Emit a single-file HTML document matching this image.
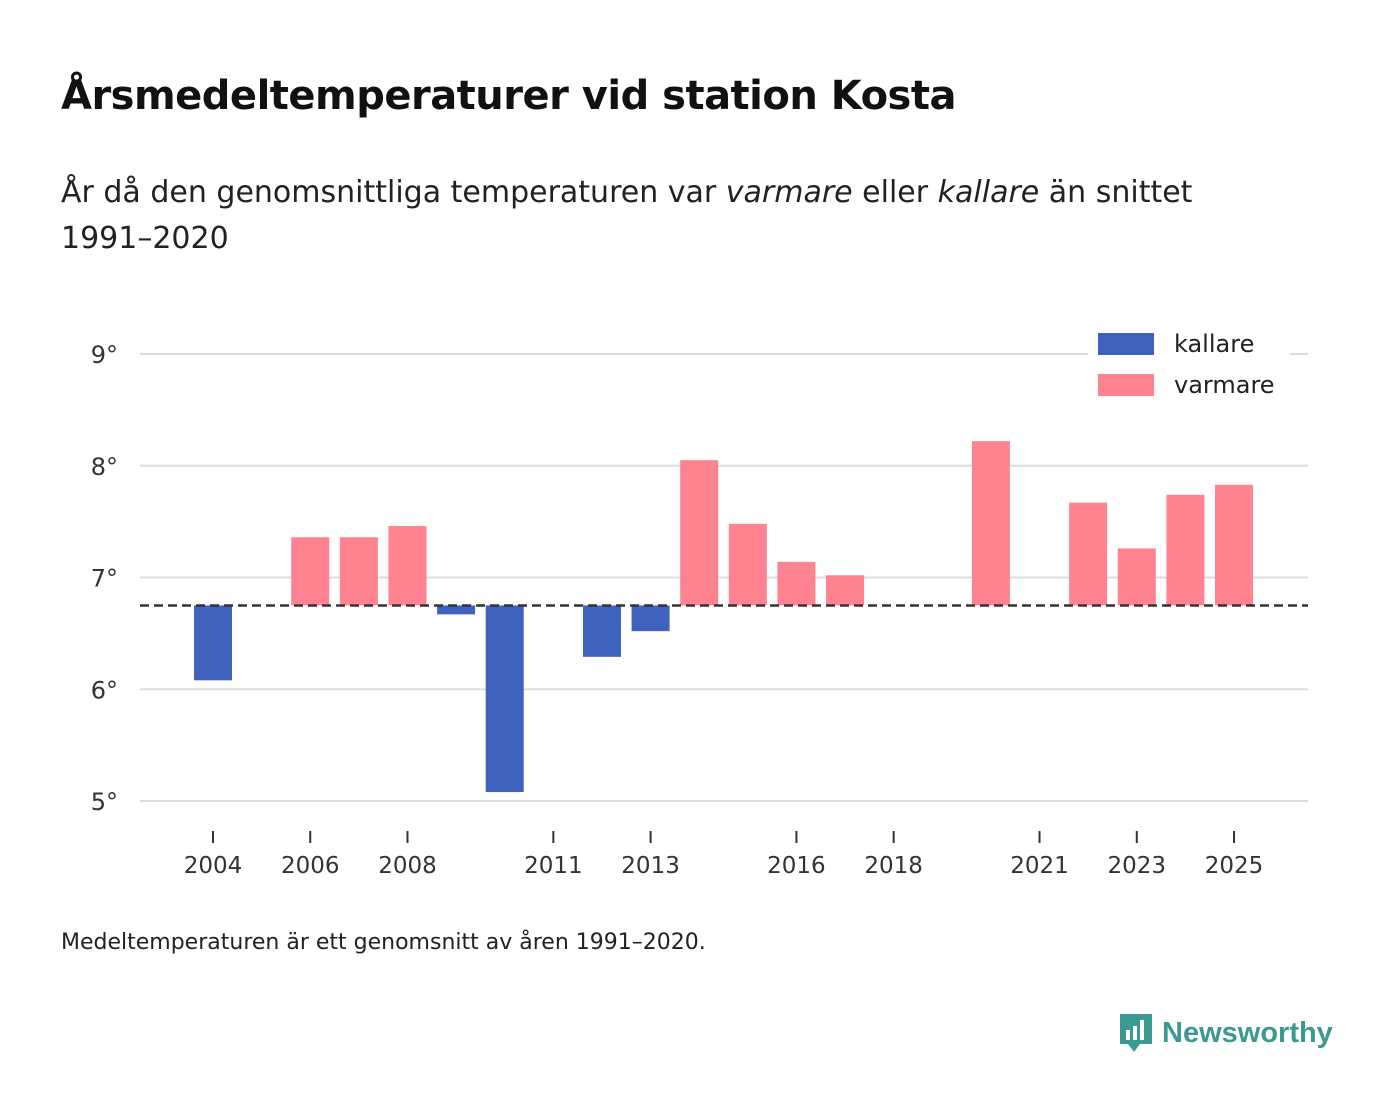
<!DOCTYPE html>
<html><head><meta charset="utf-8"><style>
body{margin:0;width:1400px;height:1116px;background:#fff;font-family:"DejaVu Sans","Liberation Sans",sans-serif;color:#111;position:relative;overflow:hidden}
#title{position:absolute;left:61px;top:73px;font-size:40px;font-weight:bold;letter-spacing:-0.5px}
#sub{position:absolute;left:61px;top:170px;font-size:30px;line-height:46px;width:1200px;color:#222}
#foot{position:absolute;left:61px;top:930px;font-size:22px;color:#222}
#logo{position:absolute;left:1118px;top:1012px;display:flex;align-items:center;gap:8px;color:#3a9a92;font-size:29px;font-weight:bold;font-family:"Liberation Sans",sans-serif}
svg{position:absolute;left:0;top:0}
text{font-family:"DejaVu Sans","Liberation Sans",sans-serif}
</style></head><body>
<div id="title">Årsmedeltemperaturer vid station Kosta</div>
<div id="sub">År då den genomsnittliga temperaturen var <i>varmare</i> eller <i>kallare</i> än snittet <span style="white-space:nowrap">1991–2020</span></div>
<svg id="chart" width="1400" height="1116"></svg>
<div id="foot">Medeltemperaturen är ett genomsnitt av åren 1991–2020.</div>
<div id="logo"><svg style="position:static" width="36" height="42" viewBox="0 0 36 42"><path d="M2 2h32v30H22l-6 8-6-8H2z" fill="#3a9a92"/><rect x="8" y="18" width="4" height="10" fill="#fff"/><rect x="15" y="14" width="4" height="14" fill="#fff"/><rect x="22" y="8" width="4" height="20" fill="#fff"/></svg>Newsworthy</div>
<script>
const years=[2004,2006,2007,2008,2009,2010,2012,2013,2014,2015,2016,2017,2020,2022,2023,2024,2025];
const temps=[6.08,7.36,7.36,7.46,6.67,5.08,6.29,6.52,8.05,7.48,7.14,7.02,8.22,7.67,7.26,7.74,7.83];
const baseline=6.75;
const yTicks=[5,6,7,8,9];
const xTicks=[2004,2006,2008,2011,2013,2016,2018,2021,2023,2025];
const NS="http://www.w3.org/2000/svg";
const svg=document.getElementById('chart');
const x=y=>213+(y-2004)*48.62;
const yS=v=>801-(v-5)*111.75;
function mk(t,a){const e=document.createElementNS(NS,t);for(const k in a)e.setAttribute(k,a[k]);svg.appendChild(e);return e;}
yTicks.forEach(v=>{
 const l=mk('line',{x1:140,x2:1308,y1:yS(v),y2:yS(v),stroke:'#ddd','stroke-width':2});
 
 
 const t=mk('text',{x:118,y:yS(v)+9,'text-anchor':'end','font-size':24,fill:'#333'});t.textContent=v+'°';
 
 
});
xTicks.forEach(v=>{
 const l=mk('line',{x1:x(v),x2:x(v),y1:831,y2:843,stroke:'#333','stroke-width':2});
 
 
 const t=mk('text',{x:x(v),y:873,'text-anchor':'middle','font-size':23,fill:'#333'});t.textContent=v;
 
 
});
years.forEach((yr,i)=>{
 const v=temps[i],warm=v>baseline;
 const y0=yS(Math.max(v,baseline)),y1=yS(Math.min(v,baseline));
 const r=mk('rect',{x:x(yr)-19,y:y0,width:38,height:y1-y0,fill:warm?'#ff8291':'#4062bf'});
 
 
});
const b=mk('line',{x1:140,x2:1308,y1:yS(baseline),y2:yS(baseline),stroke:'#333','stroke-width':2.5,'stroke-dasharray':'9,5'});


const lg=mk('rect',{x:1088,y:325,width:202,height:80,fill:'#fff'});


[['kallare','#4062bf',333],['varmare','#ff8291',374]].forEach(([n,c,yy])=>{
 const r=mk('rect',{x:1098,y:yy,width:56,height:22,fill:c});
 
 
 const t=mk('text',{x:1174,y:yy+19,'font-size':24,fill:'#222'});t.textContent=n;
 
 
});
</script>
</body></html>
